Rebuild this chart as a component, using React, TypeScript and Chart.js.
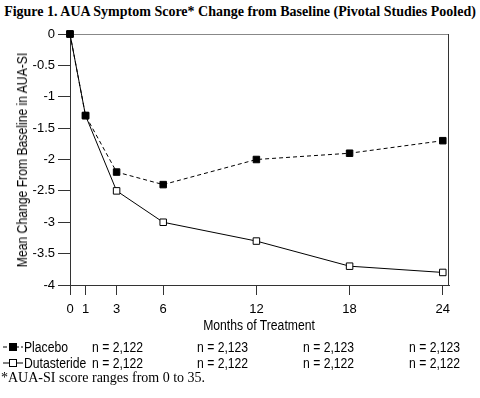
import React, { useEffect, useRef } from 'react';
import { Chart, registerables } from 'chart.js';

Chart.register(...registerables);

const titleText = 'Figure 1. AUA Symptom Score* Change from Baseline (Pivotal Studies Pooled)';
const months = [0, 1, 3, 6, 12, 18, 24];
const xTickValues = [0, 1, 3, 6, 12, 18, 24];
const placebo = [0, -1.3, -2.2, -2.4, -2.0, -1.9, -1.7];
const dutasteride = [0, -1.3, -2.5, -3.0, -3.3, -3.7, -3.8];
const placeboN = ['n = 2,122', 'n = 2,123', 'n = 2,123', 'n = 2,123'];
const dutasterideN = ['n = 2,122', 'n = 2,122', 'n = 2,122', 'n = 2,122'];
const footnote = '*AUA-SI score ranges from 0 to 35.';

const SANS = '"Liberation Sans", Arial, sans-serif';
const SERIF = '"Liberation Serif", "Times New Roman", serif';
const AXIS = '#333';

const boxPlugin = {
  id: 'boxPlugin',
  beforeDatasetsDraw(chart: any) {
    const { ctx, chartArea } = chart;
    const { left, right, top, bottom } = chartArea;
    ctx.save();
    ctx.lineWidth = 1;
    ctx.strokeStyle = '#888';
    ctx.beginPath();
    ctx.moveTo(left, top + 0.5);
    ctx.lineTo(right, top + 0.5);
    ctx.stroke();
    ctx.strokeStyle = AXIS;
    ctx.beginPath();
    ctx.moveTo(right - 0.5, top);
    ctx.lineTo(right - 0.5, bottom);
    ctx.stroke();
    ctx.restore();
  },
};

function LegendSymbol({ filled, dashed }: { filled: boolean; dashed: boolean }) {
  return (
    <svg width="20" height="10" style={{ display: 'block' }}>
      <line x1="0" y1="5" x2="20" y2="5" stroke="#000" strokeWidth="1" strokeDasharray={dashed ? '4,2' : undefined} />
      <rect x="6.5" y="1.5" width="7" height="7" fill={filled ? '#000' : '#fff'} stroke="#000" strokeWidth="1" />
    </svg>
  );
}

export default function App() {
  const ref = useRef<HTMLCanvasElement | null>(null);

  useEffect(() => {
    if (!ref.current) return;
    const chart = new Chart(ref.current, {
      type: 'line',
      data: {
        datasets: [
          {
            label: 'Placebo',
            data: months.map((m, i) => ({ x: m, y: placebo[i] })),
            borderColor: '#000',
            backgroundColor: '#000',
            borderWidth: 1,
            borderDash: [4, 3],
            pointStyle: 'rect',
            pointRadius: 4.6,
            pointBorderWidth: 1,
            pointBackgroundColor: '#000',
            pointBorderColor: '#000',
            clip: false as any,
          },
          {
            label: 'Dutasteride',
            data: months.map((m, i) => ({ x: m, y: dutasteride[i] })),
            borderColor: '#000',
            backgroundColor: '#fff',
            borderWidth: 1,
            pointStyle: 'rect',
            pointRadius: 4.6,
            pointBorderWidth: 1,
            pointBackgroundColor: '#fff',
            pointBorderColor: '#000',
            clip: false as any,
          },
        ],
      },
      options: {
        animation: false,
        responsive: false,
        devicePixelRatio: 1,
        layout: { padding: { top: 34, right: 31, left: 0, bottom: 0 } },
        plugins: { legend: { display: false }, title: { display: false }, tooltip: { enabled: false } },
        scales: {
          x: {
            type: 'linear',
            min: 0,
            max: 24.4,
            afterBuildTicks: (scale: any) => {
              scale.ticks = xTickValues.map((v) => ({ value: v }));
            },
            afterFit: (scale: any) => {
              scale.height = 35;
            },
            grid: { drawOnChartArea: false, tickLength: 10, color: AXIS, tickColor: AXIS },
            border: { color: AXIS, width: 1 },
            ticks: {
              color: '#000',
              font: { family: SANS, size: 13 },
              padding: 7,
              autoSkip: false,
              maxRotation: 0,
              callback: (v: any) => String(v),
            },
          },
          y: {
            type: 'linear',
            min: -4,
            max: 0,
            afterFit: (scale: any) => {
              scale.width = 70;
            },
            grid: { drawOnChartArea: false, tickLength: 12, color: AXIS, tickColor: AXIS },
            border: { color: AXIS, width: 1 },
            ticks: {
              stepSize: 0.5,
              color: '#000',
              font: { family: SANS, size: 13 },
              padding: 3,
              callback: (v: any) => String(v),
            },
          },
        },
      },
      plugins: [boxPlugin],
    });
    return () => chart.destroy();
  }, []);

  const colX = [92, 197, 303, 409];
  const sans: React.CSSProperties = {
    fontFamily: SANS,
    fontSize: 14,
    color: '#000',
    position: 'absolute',
    whiteSpace: 'nowrap',
    lineHeight: '16px',
  };
  const narrow: React.CSSProperties = { ...sans, transform: 'scaleX(0.87)', transformOrigin: 'left center' };

  return (
    <div style={{ position: 'absolute', left: 0, top: 0, width: 480, height: 398, background: '#fff', overflow: 'hidden' }}>
      <div style={{ position: 'absolute', left: 0, top: 3, width: 480, textAlign: 'center', fontFamily: SERIF, fontWeight: 'bold', fontSize: 14, lineHeight: '18px', whiteSpace: 'nowrap' }}>
        {titleText}
      </div>
      <canvas ref={ref} width={480} height={320} style={{ position: 'absolute', left: 0, top: 0 }} />
      <div style={{ ...sans, left: 22, top: 160, transform: 'translate(-50%, -50%) rotate(-90deg) scaleX(0.87)' }}>
        Mean Change From Baseline in AUA-SI
      </div>
      <div style={{ ...sans, left: 259, top: 317, transform: 'translateX(-50%) scaleX(0.87)' }}>Months of Treatment</div>
      <div style={{ position: 'absolute', left: 3, top: 342 }}>
        <LegendSymbol filled dashed />
      </div>
      <div style={{ ...narrow, left: 24, top: 339 }}>Placebo</div>
      {placeboN.map((t, i) => (
        <div key={'p' + i} style={{ ...narrow, left: colX[i], top: 339 }}>{t}</div>
      ))}
      <div style={{ position: 'absolute', left: 3, top: 358 }}>
        <LegendSymbol filled={false} dashed={false} />
      </div>
      <div style={{ ...narrow, left: 24, top: 355 }}>Dutasteride</div>
      {dutasterideN.map((t, i) => (
        <div key={'d' + i} style={{ ...narrow, left: colX[i], top: 355 }}>{t}</div>
      ))}
      <div style={{ position: 'absolute', left: 1, top: 370, fontFamily: SERIF, fontSize: 14, lineHeight: '16px', whiteSpace: 'nowrap' }}>
        {footnote}
      </div>
    </div>
  );
}
